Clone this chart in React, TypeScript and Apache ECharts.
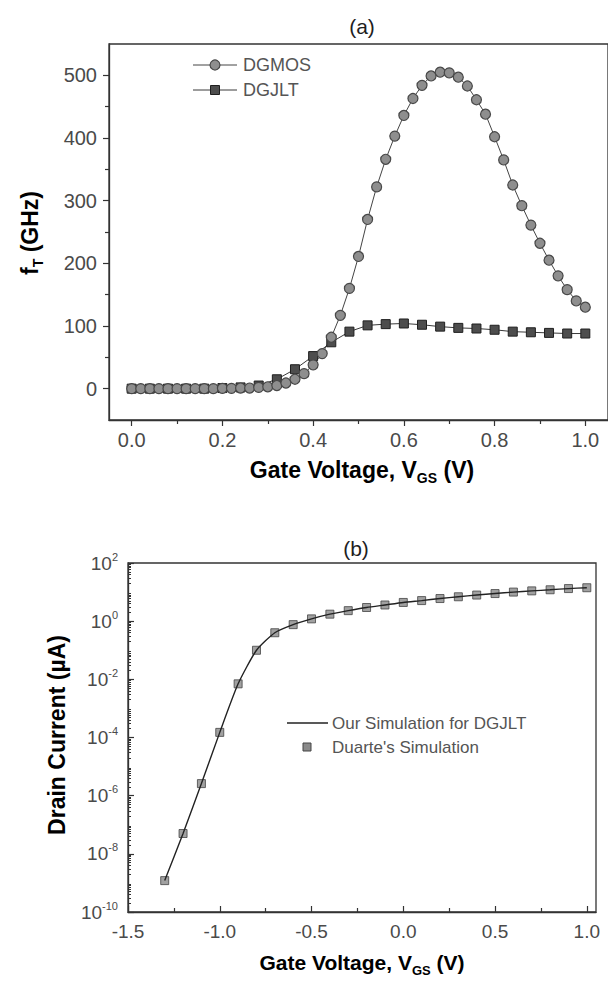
import React, { useEffect, useRef } from "react";
import * as echarts from "echarts";

// ---- Panel (a): cut-off frequency vs gate voltage ----
const vgsDgmos = [
  0.0, 0.02, 0.04, 0.06, 0.08, 0.1, 0.12, 0.14, 0.16, 0.18, 0.2, 0.22, 0.24, 0.26, 0.28, 0.3, 0.32,
  0.34, 0.36, 0.38, 0.4, 0.42, 0.44, 0.46, 0.48, 0.5, 0.52, 0.54, 0.56, 0.58, 0.6, 0.62, 0.64, 0.66,
  0.68, 0.7, 0.72, 0.74, 0.76, 0.78, 0.8, 0.82, 0.84, 0.86, 0.88, 0.9, 0.92, 0.94, 0.96, 0.98, 1.0,
];
const ftDgmos = [
  0, 0, 0, 0, 0, 0, 0, 0, 0, 0, 0.5, 0.5, 1, 1, 2, 3, 5,
  9, 15, 24, 38, 56, 82, 117, 160, 211, 270, 322, 366, 403, 436, 463, 484, 499,
  505, 504, 497, 483, 461, 438, 402, 365, 325, 292, 261, 232, 205, 180, 158, 140, 130,
];
const vgsDgjlt = [
  0.0, 0.04, 0.08, 0.12, 0.16, 0.2, 0.24, 0.28, 0.32, 0.36, 0.4, 0.44, 0.48, 0.52, 0.56, 0.6,
  0.64, 0.68, 0.72, 0.76, 0.8, 0.84, 0.88, 0.92, 0.96, 1.0,
];
const ftDgjlt = [
  0, 0, 0, 0, 0, 1, 2, 5, 15, 31, 52, 74, 91, 101, 103, 104,
  102, 99, 97, 96, 94, 91, 90, 89, 88, 88,
];
const topXTicks = [0, 0.2, 0.4, 0.6, 0.8, 1.0];
const topXMinor = [0.1, 0.3, 0.5, 0.7, 0.9];
const topYTicks = [0, 100, 200, 300, 400, 500];
const topYMinor = [50, 150, 250, 350, 450];

// ---- Panel (b): drain current vs gate voltage (log scale) ----
const vgsDrain = [
  -1.3, -1.2, -1.1, -1.0, -0.9, -0.8, -0.7, -0.6, -0.5, -0.4, -0.3, -0.2, -0.1, 0.0, 0.1, 0.2,
  0.3, 0.4, 0.5, 0.6, 0.7, 0.8, 0.9, 1.0,
];
const idOurSimulation = [
  1.2e-9, 5e-8, 2.6e-6, 1.5e-4, 7e-3, 0.1, 0.4, 0.76, 1.2, 1.74, 2.3, 2.95, 3.6, 4.4, 5.1, 6.0,
  6.9, 7.9, 8.9, 10, 11, 12, 13.2, 14.1,
];
const idDuarte = [
  1.2e-9, 5e-8, 2.6e-6, 1.5e-4, 7e-3, 0.1, 0.4, 0.76, 1.2, 1.74, 2.3, 2.95, 3.6, 4.4, 5.1, 6.0,
  6.9, 7.9, 8.9, 10, 11, 12, 13.2, 14.1,
];
const botXTicks = [-1.5, -1.0, -0.5, 0.0, 0.5, 1.0];
const botXMinor = [-1.25, -0.75, -0.25, 0.25, 0.75];
const decadeExponents = [-10, -9, -8, -7, -6, -5, -4, -3, -2, -1, 0, 1];
const minorMultipliers = [2, 3, 4, 5, 6, 7, 8, 9];

const FONT = '"Liberation Sans", Arial, Helvetica, sans-serif';
const AXIS = "#333";
const LABEL = "#4a4a4a";
const TITLE = "#1e1e1e";

const pairs = (xs: number[], ys: number[]) => xs.map((x, i) => [x, ys[i]]);
const logPairs = (xs: number[], ys: number[]) => xs.map((x, i) => [x, Math.log10(ys[i])]);

const logMinor: number[] = [];
decadeExponents.forEach((e) => minorMultipliers.forEach((m) => logMinor.push(e + Math.log10(m))));

function buildOption(): echarts.EChartsOption {
  const axisLine = { show: true, onZero: false, lineStyle: { color: AXIS, width: 1.3 } };
  const hiddenLine = { show: false, onZero: false };
  const tickStyle = { color: AXIS, width: 1.2 };
  const title = { fontSize: 23, fontWeight: "bold" as const, fontFamily: FONT, color: TITLE, lineHeight: 30 };
  const sub = { fontSize: 14, fontWeight: "bold" as const, fontFamily: FONT, color: TITLE, verticalAlign: "bottom" as const, lineHeight: 12 };
  const legendText = { fontSize: 18, fontFamily: FONT, fill: "#555" };
  const legendText2 = { fontSize: 17, fontFamily: FONT, fill: "#555" };

  return {
    animation: false,
    backgroundColor: "#fff",
    grid: [
      { left: 109, top: 44, width: 503, height: 376, show: true, borderColor: AXIS, borderWidth: 1.3, backgroundColor: "transparent" },
      { left: 128, top: 563, width: 468, height: 349, show: true, borderColor: AXIS, borderWidth: 1.3, backgroundColor: "transparent" },
    ],
    xAxis: [
      {
        type: "value", gridIndex: 0, min: -0.05, max: 1.05, position: "bottom",
        axisLine, splitLine: { show: false },
        axisTick: { show: true, customValues: topXTicks, length: 6, inside: false, lineStyle: tickStyle },
        axisLabel: { customValues: topXTicks, formatter: (v: number) => v.toFixed(1), fontSize: 20, fontFamily: FONT, color: LABEL, margin: 10 },
      },
      {
        type: "value", gridIndex: 0, min: -0.05, max: 1.05, position: "bottom",
        axisLine: hiddenLine, splitLine: { show: false }, axisLabel: { show: false },
        axisTick: { show: true, customValues: topXMinor, length: 4, inside: false, lineStyle: tickStyle },
      },
      {
        type: "value", gridIndex: 1, min: -1.5, max: 1.05, position: "bottom",
        axisLine, splitLine: { show: false },
        axisTick: { show: true, customValues: botXTicks, length: 6, inside: true, lineStyle: tickStyle },
        axisLabel: { customValues: botXTicks, formatter: (v: number) => v.toFixed(1), fontSize: 19, fontFamily: FONT, color: LABEL, margin: 10 },
      },
      {
        type: "value", gridIndex: 1, min: -1.5, max: 1.05, position: "bottom",
        axisLine: hiddenLine, splitLine: { show: false }, axisLabel: { show: false },
        axisTick: { show: true, customValues: botXMinor, length: 4, inside: true, lineStyle: tickStyle },
      },
    ],
    yAxis: [
      {
        type: "value", gridIndex: 0, min: -50, max: 550, position: "left",
        axisLine, splitLine: { show: false },
        axisTick: { show: true, customValues: topYTicks, length: 6, inside: false, lineStyle: tickStyle },
        axisLabel: { customValues: topYTicks, fontSize: 20, fontFamily: FONT, color: LABEL, margin: 12 },
      },
      {
        type: "value", gridIndex: 0, min: -50, max: 550, position: "left",
        axisLine: hiddenLine, splitLine: { show: false }, axisLabel: { show: false },
        axisTick: { show: true, customValues: topYMinor, length: 4, inside: false, lineStyle: tickStyle },
      },
      {
        type: "value", gridIndex: 1, min: -10, max: 2, interval: 2, position: "left",
        axisLine, splitLine: { show: false },
        axisTick: { show: true, length: 6, inside: true, lineStyle: tickStyle },
        axisLabel: {
          fontFamily: FONT, color: LABEL, margin: 10,
          formatter: (v: number) => `{b|10}{e|${v}}`,
          rich: {
            b: { fontSize: 19, fontFamily: FONT, color: LABEL, lineHeight: 24 },
            e: { fontSize: 11, fontFamily: FONT, color: LABEL, verticalAlign: "top", lineHeight: 11 },
          },
        },
      },
      {
        type: "value", gridIndex: 1, min: -10, max: 2, position: "left",
        axisLine: hiddenLine, splitLine: { show: false }, axisLabel: { show: false },
        axisTick: { show: true, customValues: logMinor, length: 3, inside: true, lineStyle: { color: AXIS, width: 1 } },
      },
    ],
    series: [
      {
        name: "DGJLT", type: "line", xAxisIndex: 0, yAxisIndex: 0,
        data: pairs(vgsDgjlt, ftDgjlt),
        symbol: "rect", symbolSize: 9,
        itemStyle: { color: "#4d4d4d", borderColor: "#1f1f1f", borderWidth: 1 },
        lineStyle: { color: "#3a3a3a", width: 1 },
      },
      {
        name: "DGMOS", type: "line", xAxisIndex: 0, yAxisIndex: 0,
        data: pairs(vgsDgmos, ftDgmos),
        symbol: "circle", symbolSize: 10,
        itemStyle: { color: "#8e8e8e", borderColor: "#484848", borderWidth: 1.2 },
        lineStyle: { color: "#444", width: 1 },
      },
      {
        name: "Our Simulation for DGJLT", type: "line", xAxisIndex: 2, yAxisIndex: 2,
        data: logPairs(vgsDrain, idOurSimulation),
        showSymbol: false, smooth: 0.2,
        lineStyle: { color: "#222", width: 1.4 },
      },
      {
        name: "Duarte's Simulation", type: "scatter", xAxisIndex: 2, yAxisIndex: 2,
        data: logPairs(vgsDrain, idDuarte),
        symbol: "rect", symbolSize: 8,
        itemStyle: { color: "#8a8a8a", borderColor: "#444", borderWidth: 1 },
      },
    ],
    graphic: [
      // panel labels
      { type: "text", x: 362, y: 26, style: { text: "(a)", fontSize: 21, fontFamily: FONT, fill: TITLE, align: "center", verticalAlign: "middle" } },
      { type: "text", x: 356, y: 548, style: { text: "(b)", fontSize: 21, fontFamily: FONT, fill: TITLE, align: "center", verticalAlign: "middle" } },
      // axis titles
      {
        type: "text", x: 30, y: 233, rotation: Math.PI / 2,
        style: { text: "{t|f}{s|T}{t| (GHz)}", rich: { t: title, s: sub }, align: "center", verticalAlign: "middle" },
      },
      {
        type: "text", x: 362, y: 470,
        style: { text: "{t|Gate Voltage, V}{s|GS}{t| (V)}", rich: { t: title, s: sub }, align: "center", verticalAlign: "middle" },
      },
      {
        type: "text", x: 57, y: 735, rotation: Math.PI / 2,
        style: { text: "{t|Drain Current (µA)}", rich: { t: title }, align: "center", verticalAlign: "middle" },
      },
      {
        type: "text", x: 362, y: 962,
        style: {
          text: "{t|Gate Voltage, V}{s|GS}{t| (V)}",
          rich: { t: { ...title, fontSize: 21 }, s: { ...sub, fontSize: 13 } },
          align: "center", verticalAlign: "middle",
        },
      },
      // legend of panel (a)
      { type: "line", shape: { x1: 193, y1: 65, x2: 237, y2: 65 }, style: { stroke: "#444", lineWidth: 1 } },
      { type: "circle", shape: { cx: 215, cy: 65, r: 5 }, style: { fill: "#8e8e8e", stroke: "#484848", lineWidth: 1.2 } },
      { type: "text", x: 243, y: 65, style: { text: "DGMOS", ...legendText, verticalAlign: "middle" } },
      { type: "line", shape: { x1: 193, y1: 90, x2: 237, y2: 90 }, style: { stroke: "#3a3a3a", lineWidth: 1 } },
      { type: "rect", shape: { x: 210.5, y: 85.5, width: 9, height: 9 }, style: { fill: "#4d4d4d", stroke: "#1f1f1f", lineWidth: 1 } },
      { type: "text", x: 243, y: 90, style: { text: "DGJLT", ...legendText, verticalAlign: "middle" } },
      // legend of panel (b)
      { type: "line", shape: { x1: 287, y1: 723, x2: 328, y2: 723 }, style: { stroke: "#222", lineWidth: 1.6 } },
      { type: "text", x: 332, y: 723, style: { text: "Our Simulation for DGJLT", ...legendText2, verticalAlign: "middle" } },
      { type: "rect", shape: { x: 303, y: 743, width: 8, height: 8 }, style: { fill: "#8a8a8a", stroke: "#444", lineWidth: 1 } },
      { type: "text", x: 332, y: 747, style: { text: "Duarte's Simulation", ...legendText2, verticalAlign: "middle" } },
    ],
  } as echarts.EChartsOption;
}

export default function App() {
  const ref = useRef<HTMLDivElement>(null);
  useEffect(() => {
    if (!ref.current) return;
    const chart = echarts.init(ref.current, null, { renderer: "svg" });
    chart.setOption(buildOption());
    return () => chart.dispose();
  }, []);
  return <div ref={ref} style={{ position: "absolute", left: 0, top: 0, width: 608, height: 986 }} />;
}
